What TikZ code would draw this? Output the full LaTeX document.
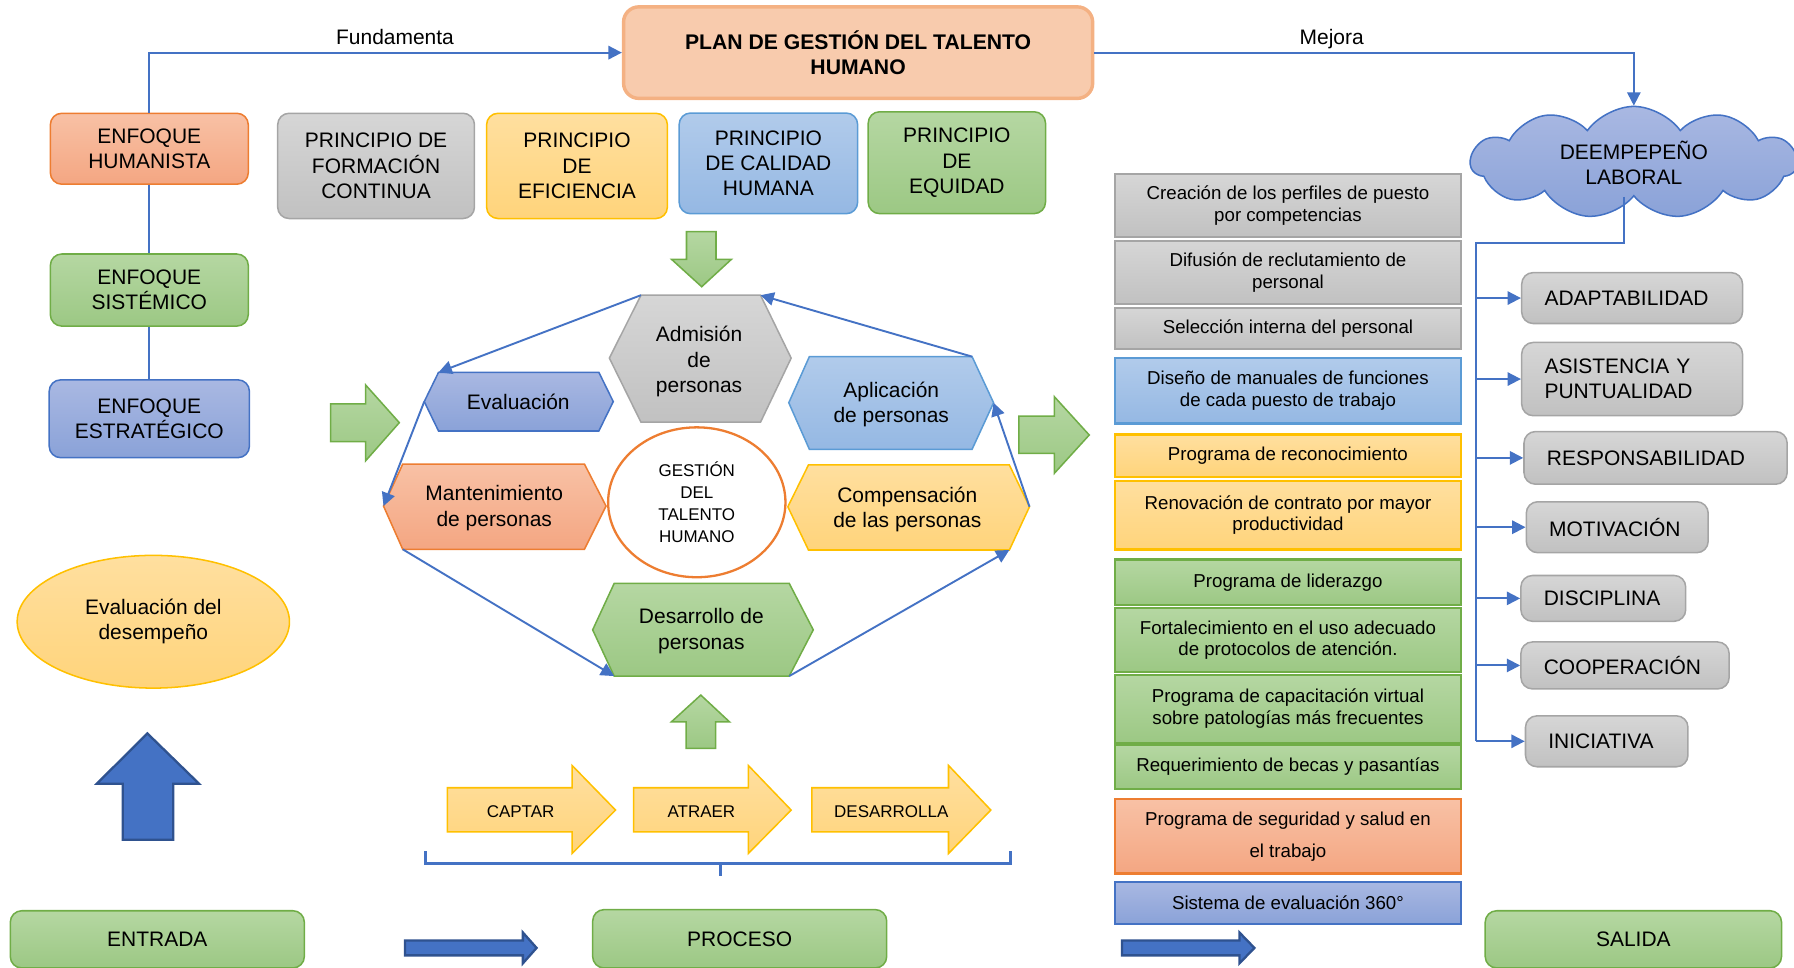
\documentclass[tikz,border=0pt]{standalone}
\usepackage{fontspec}
\setmainfont{Liberation Sans}
\usetikzlibrary{shapes.geometric,shapes.symbols,arrows.meta}

\definecolor{orTop}{HTML}{F8C1A5}
\definecolor{orBot}{HTML}{F4A682}
\definecolor{orLine}{HTML}{ED7D31}
\definecolor{grTop}{HTML}{B5D7A2}
\definecolor{grBot}{HTML}{9CC884}
\definecolor{grLine}{HTML}{70AD47}
\definecolor{blTop}{HTML}{A9B8E2}
\definecolor{blBot}{HTML}{8AA2D8}
\definecolor{blLine}{HTML}{4472C4}
\definecolor{lbTop}{HTML}{B1CBEB}
\definecolor{lbBot}{HTML}{95B8E3}
\definecolor{lbLine}{HTML}{5B9BD5}
\definecolor{yeTop}{HTML}{FFDF9F}
\definecolor{yeBot}{HTML}{FFD47B}
\definecolor{yeLine}{HTML}{FFC000}
\definecolor{gyTop}{HTML}{D6D6D6}
\definecolor{gyBot}{HTML}{C1C1C1}
\definecolor{gyLine}{HTML}{A5A5A5}
\definecolor{planFill}{HTML}{F8CBAD}
\definecolor{planLine}{HTML}{F4B183}
\definecolor{arrBlue}{HTML}{4472C4}
\definecolor{arrDark}{HTML}{2F528F}

\tikzset{
  wh/.style 2 args={minimum width=#1*0.6pt, minimum height=#2*0.6pt},
  orfill/.style={top color=orTop, bottom color=orBot, draw=orLine},
  grfill/.style={top color=grTop, bottom color=grBot, draw=grLine},
  blfill/.style={top color=blTop, bottom color=blBot, draw=blLine},
  lbfill/.style={top color=lbTop, bottom color=lbBot, draw=lbLine},
  yefill/.style={top color=yeTop, bottom color=yeBot, draw=yeLine},
  gyfill/.style={top color=gyTop, bottom color=gyBot, draw=gyLine},
  rbox/.style={draw, line width=0.8pt, rounded corners=6pt, align=center, inner sep=2pt},
  hex/.style={line width=0.8pt},
  task/.style={draw, line width=1.2pt, align=center, inner sep=1pt,
    font=\fontsize{9.8}{11.4}\selectfont, minimum width=302*0.6pt, minimum height=#1*0.6pt},
  kpi/.style={rbox, gyfill, align=left, inner xsep=12pt},
  link/.style={draw=blLine, line width=1pt},
  conn/.style={link, -{Triangle[length=7pt,width=7pt]}},
  block/.style={line width=1.2pt, fill=arrBlue, draw=arrDark},
  lbl/.style={above, text height=8pt, text depth=0.5pt},
}

\begin{document}
\begin{tikzpicture}[x=0.6pt, y=-0.6pt, font=\fontsize{11}{13.2}\selectfont]
\useasboundingbox (0,0) rectangle (1568,846);

% plan y desempeno
\node[rbox, wh={410}{80}, fill=planFill, draw=planLine, line width=1.8pt, rounded corners=8pt,
  font=\bfseries\fontsize{11.1}{13.2}\selectfont] (plan) at (750,46) {PLAN DE GESTIÓN DEL TALENTO\\HUMANO};
\node[cloud, cloud puffs=11, cloud puff arc=110, aspect=2.8, wh={285}{98}, blfill, line width=0.8pt,
  align=center, text depth=0pt] (cloud) at (1428,142) {DEEMPEPEÑO\\LABORAL};

% enfoques
\node[rbox, orfill, wh={173}{62}] (hum) at (130.5,130) {ENFOQUE\\HUMANISTA};
\node[rbox, grfill, wh={173}{63}] (sis) at (130.5,253.5) {ENFOQUE\\SISTÉMICO};
\node[rbox, blfill, wh={175}{68}] (est) at (130.5,366) {ENFOQUE\\ESTRATÉGICO};
\draw[link] (hum.south) -- (sis.north);
\draw[link] (sis.south) -- (est.north);
\draw[conn] (hum.north) |- (plan.west) node[lbl, pos=0.76] {Fundamenta};
\draw[conn] (plan.east) -| (cloud.north) node[lbl, pos=0.22] {Mejora};

% principios
\node[rbox, gyfill, wh={172}{92}] (pfor) at (328.7,145) {PRINCIPIO DE\\FORMACIÓN\\CONTINUA};
\node[rbox, yefill, wh={158}{92}] (pefi) at (504.3,145) {PRINCIPIO\\DE\\EFICIENCIA};
\node[rbox, lbfill, wh={156}{88}] (pcal) at (671.6,142.8) {PRINCIPIO\\DE CALIDAD\\HUMANA};
\node[rbox, grfill, wh={155}{89}] (pequ) at (836.3,142.2) {PRINCIPIO\\DE\\EQUIDAD};

\node[ellipse, yefill, line width=0.8pt, wh={238}{116}, align=center] (evd) at (134,543.4) {Evaluación del\\desempeño};

% hexagonos
\draw[hex, gyfill] (532.6,313) coordinate (adm-l) -- (560.2,258) coordinate (adm-tl)
  -- (664.7,258) coordinate (adm-tr) -- (691.5,313) -- (664.7,369) -- (560.2,369) -- cycle;
\draw[hex, blfill] (370.8,351) coordinate (eva-l) -- (383.3,325.4) coordinate (eva-tl)
  -- (523.4,325.4) -- (536,351) -- (523.4,376.7) -- (383.3,376.7) -- cycle;
\draw[hex, lbfill] (689.4,352) -- (707.4,311.7) -- (849.6,311.7) coordinate (apl-tr)
  -- (868.4,352) coordinate (apl-r) -- (849.6,392.7) -- (707.4,392.7) -- cycle;
\draw[hex, orfill] (335.2,442.3) coordinate (man-l) -- (352,405.6) -- (510.8,405.6)
  -- (529.7,442.3) -- (510.8,480.1) -- (352,480.1) coordinate (man-bl) -- cycle;
\draw[hex, yefill] (688.6,442.9) -- (706.6,406.4) -- (882.2,406.4) -- (899.8,442.9) coordinate (com-r)
  -- (882.2,480.7) coordinate (com-br) -- (706.6,480.7) -- cycle;
\draw[hex, grfill] (518,550.5) -- (536.8,509.9) -- (689.8,509.9) -- (710.8,550.5)
  -- (689.8,590.9) coordinate (des-br) -- (536.8,590.9) coordinate (des-bl) -- cycle;

\node[align=center] (adm) at (611,316) {Admisión\\de\\personas};
\node (eva) at (453,351) {Evaluación};
\node[align=center] (apl) at (779,353.5) {Aplicación\\de personas};
\node[align=center] (man) at (432,444) {Mantenimiento\\de personas};
\node[align=center] (com) at (793,445) {Compensación\\de las personas};
\node[align=center] (des) at (613,551.5) {Desarrollo de\\personas};
\node[ellipse, draw=orLine, fill=white, line width=1.2pt, wh={155}{131}, align=center,
  font=\fontsize{8.9}{11.4}\selectfont] (gth) at (609,439) {GESTIÓN\\DEL\\TALENTO\\HUMANO};

\draw[conn] (adm-tl) -- (eva-tl);
\draw[conn] (eva-l) -- (man-l);
\draw[conn] (man-bl) -- (des-bl);
\draw[conn] (des-br) -- (com-br);
\draw[conn] (com-r) -- (apl-r);
\draw[conn] (apl-tr) -- (adm-tr);

% flechas de bloque
\draw[grfill, line width=0.8pt] (600,202.5) -- (625.8,202.5) -- (625.8,226.7) -- (639.2,226.7)
  -- (613.3,250.6) -- (587,226.7) -- (600,226.7) -- cycle;
\draw[grfill, line width=0.8pt] (289,353) -- (319.6,353) -- (319.6,336.5) -- (349,369.4)
  -- (319.6,402.7) -- (319.6,386) -- (289,386) -- cycle;
\draw[grfill, line width=0.8pt] (890.6,363.6) -- (921.5,363.6) -- (921.5,346.7) -- (952,380.2)
  -- (921.5,413.7) -- (921.5,396.2) -- (890.6,396.2) -- cycle;
\draw[grfill, line width=0.8pt] (599.7,654) -- (599.7,631) -- (586.7,631) -- (612.5,607.5)
  -- (637.7,631) -- (625.4,631) -- (625.4,654) -- cycle;
\draw[block] (107.3,734) -- (107.3,685) -- (84.6,685) -- (128.8,641) -- (174,685)
  -- (151.5,685) -- (151.5,734) -- cycle;
\draw[block] (354,822) -- (457,822) -- (457,815) -- (469,828.5) -- (457,842) -- (457,835)
  -- (354,835) -- cycle;
\draw[block] (980.6,822) -- (1083.3,822) -- (1083.3,815) -- (1096.4,828.5) -- (1083.3,842)
  -- (1083.3,835) -- (980.6,835) -- cycle;

% captar, atraer, desarrolla
\draw[yefill, line width=0.8pt] (391,688.5) -- (500,688.5) -- (500,669) -- (538,708) -- (500,746)
  -- (500,727) -- (391,727) -- cycle;
\draw[yefill, line width=0.8pt] (553.7,688.5) -- (654,688.5) -- (654,669) -- (691.5,708) -- (654,746)
  -- (654,727) -- (553.7,727) -- cycle;
\draw[yefill, line width=0.8pt] (709.5,688.5) -- (829,688.5) -- (829,669) -- (866,708) -- (829,746)
  -- (829,727) -- (709.5,727) -- cycle;
\node[font=\fontsize{8.9}{11}\selectfont] (cap) at (455,709) {CAPTAR};
\node[font=\fontsize{8.9}{11}\selectfont] (atr) at (613,709) {ATRAER};
\node[font=\fontsize{8.9}{11}\selectfont] (dsa) at (779,709) {DESARROLLA};
\draw[blLine, line width=1.5pt] (372,744) -- (372,754.6) -- (883,754.6) -- (883,744);
\draw[blLine, line width=1.5pt] (629.7,754.6) -- (629.7,766);

\node[rbox, grfill, wh={257}{50}] (ent) at (137.5,821) {ENTRADA};
\node[rbox, grfill, wh={257}{51}] (pro) at (646.5,820.5) {PROCESO};
\node[rbox, grfill, wh={259}{50}] (sal) at (1427.6,821) {SALIDA};

% acciones
\node[task=55, gyfill] (t1) at (1125.7,179.5) {Creación de los perfiles de puesto\\por competencias};
\node[task=55, gyfill] (t2) at (1125.7,238) {Difusión de reclutamiento de\\personal};
\node[task=36, gyfill] (t3) at (1125.7,287) {Selección interna del personal};
\node[task=57, lbfill] (t4) at (1125.7,341.6) {Diseño de manuales de funciones\\de cada puesto de trabajo};
\node[task=37, yefill] (t5) at (1125.7,398.2) {Programa de reconocimiento};
\node[task=60, yefill] (t6) at (1125.7,450.2) {Renovación de contrato por mayor\\productividad};
\node[task=40, grfill] (t7) at (1125.7,508.9) {Programa de liderazgo};
\node[task=56, grfill] (t8) at (1125.7,559.4) {Fortalecimiento en el uso adecuado\\de protocolos de atención.};
\node[task=59, grfill] (t9) at (1125.7,619.6) {Programa de capacitación virtual\\sobre patologías más frecuentes};
\node[task=38, grfill] (t10) at (1125.7,670.4) {Requerimiento de becas y pasantías};
\node[task=65, orfill, font=\fontsize{9.8}{16.8}\selectfont] (t11) at (1125.7,731) {Programa de seguridad y salud en\\el trabajo};
\node[task=37, blfill] (t12) at (1125.7,789.1) {Sistema de evaluación 360°};

% indicadores
\node[kpi, wh={193}{44.5}, text width=153*0.6pt] (ada) at (1426.5,260.5) {ADAPTABILIDAD};
\node[kpi, wh={193}{64}, text width=153*0.6pt] (asi) at (1426.5,331.3) {ASISTENCIA Y\\PUNTUALIDAD};
\node[kpi, wh={230}{46}, text width=190*0.6pt] (res) at (1447,400.2) {RESPONSABILIDAD};
\node[kpi, wh={159}{44.5}, text width=119*0.6pt] (mot) at (1413.5,460.8) {MOTIVACIÓN};
\node[kpi, wh={144}{40}, text width=104*0.6pt] (dis) at (1401.3,523) {DISCIPLINA};
\node[kpi, wh={182}{41}, text width=142*0.6pt] (coo) at (1420.3,581.6) {COOPERACIÓN};
\node[kpi, wh={142}{44.5}, text width=102*0.6pt] (ini) at (1404.3,647.9) {INICIATIVA};

\coordinate (bus) at (1290,212);
\draw[link] ([xshift=-5pt]cloud.south) |- (bus) -- (bus |- ini.west);
\foreach \k in {ada,asi,res,mot,dis,coo,ini}
  \draw[conn] (bus |- \k.west) -- (\k.west);
\end{tikzpicture}
\end{document}
